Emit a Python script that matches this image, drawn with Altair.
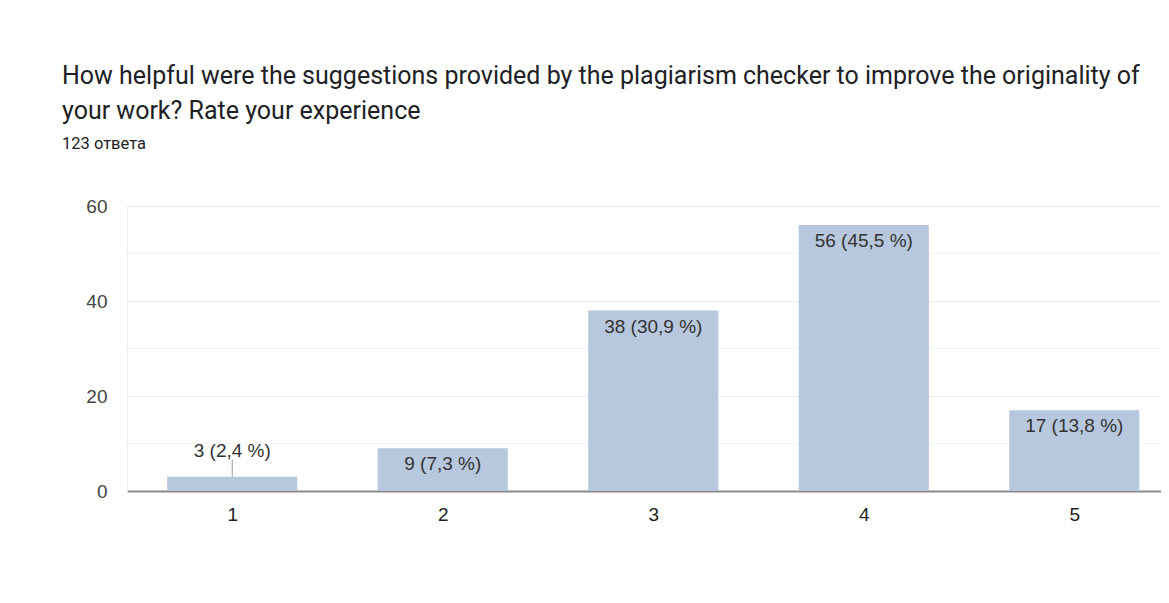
import altair as alt
import pandas as pd

ratings = [1, 2, 3, 4, 5]
counts = [3, 9, 38, 56, 17]
total = 123
labels = [f"{c} ({c / total * 100:.1f} %)".replace(".", ",") for c in counts]
minor_grid = [10, 30, 50]

df = pd.DataFrame({"rating": ratings, "count": counts, "label": labels})
grid_df = pd.DataFrame({"g": minor_grid})

BAR = "#b7c7dd"
HALF = 0.309
FONT = "Liberation Sans"

xscale = alt.Scale(domain=[0.5, 5.412], nice=False, zero=False)
yscale = alt.Scale(domain=[0, 60], nice=False)

minor = alt.Chart(grid_df).mark_rule(color="#f4f4f4", strokeWidth=1).encode(
    y=alt.Y("g:Q", scale=yscale)
)

base = alt.Chart(df).transform_calculate(
    x0=f"datum.rating - {HALF}", x1=f"datum.rating + {HALF}"
)

bars = base.mark_bar(color=BAR).encode(
    x=alt.X(
        "x0:Q",
        scale=xscale,
        axis=alt.Axis(
            values=ratings,
            format="d",
            title=None,
            grid=False,
            ticks=False,
            domain=True,
            domainColor="#8a8a8a",
            domainWidth=2,
            labelFont=FONT,
            labelFontSize=19,
            labelColor="#222222",
            labelPadding=14,
        ),
    ),
    x2="x1:Q",
    y=alt.Y(
        "count:Q",
        scale=yscale,
        axis=alt.Axis(
            values=[0, 20, 40, 60],
            title=None,
            grid=True,
            gridColor="#ebebeb",
            ticks=False,
            domain=True,
            domainColor="#ededed",
            labelFont=FONT,
            labelFontSize=19,
            labelColor="#444444",
            labelPadding=20,
        ),
    ),
    y2=alt.datum(0),
)

inside = base.transform_filter("datum.count >= 5").mark_text(
    font=FONT, fontSize=19, color="#333333", baseline="middle", dy=16
).encode(x=alt.X("rating:Q", scale=xscale), y=alt.Y("count:Q", scale=yscale), text="label:N")

outside = base.transform_filter("datum.count < 5").mark_text(
    font=FONT, fontSize=19, color="#333333", baseline="middle", dy=-26
).encode(x=alt.X("rating:Q", scale=xscale), y=alt.Y("count:Q", scale=yscale), text="label:N")

leader = base.transform_filter("datum.count < 5").transform_calculate(
    ytop="datum.count + 3.6"
).mark_rule(color="#999999", strokeWidth=1).encode(
    x=alt.X("rating:Q", scale=xscale), y=alt.Y("count:Q", scale=yscale), y2="ytop:Q"
)

chart = (
    alt.layer(minor, bars, leader, inside, outside)
    .properties(
        width=1034,
        height=285,
        padding={"left": 119, "top": 198, "right": 0, "bottom": 60},
        autosize=alt.AutoSizeParams(type="none"),
        background="#ffffff",
        title=alt.TitleParams(
            text=[
                "How helpful were the suggestions provided by the plagiarism checker to improve the originality of",
                "your work? Rate your experience",
            ],
            subtitle="123 ответа",
            anchor="start",
            frame="group",
            dx=-65,
            offset=45,
            font="Roboto",
            fontSize=25,
            fontWeight="normal",
            color="#202124",
            lineHeight=35,
            subtitleFont="Roboto",
            subtitleFontSize=16.5,
            subtitleColor="#202124",
            subtitlePadding=12,
        ),
    )
    .configure_view(stroke=None)
)

chart.save("out.html", embed_options={"renderer": "svg", "actions": False})
